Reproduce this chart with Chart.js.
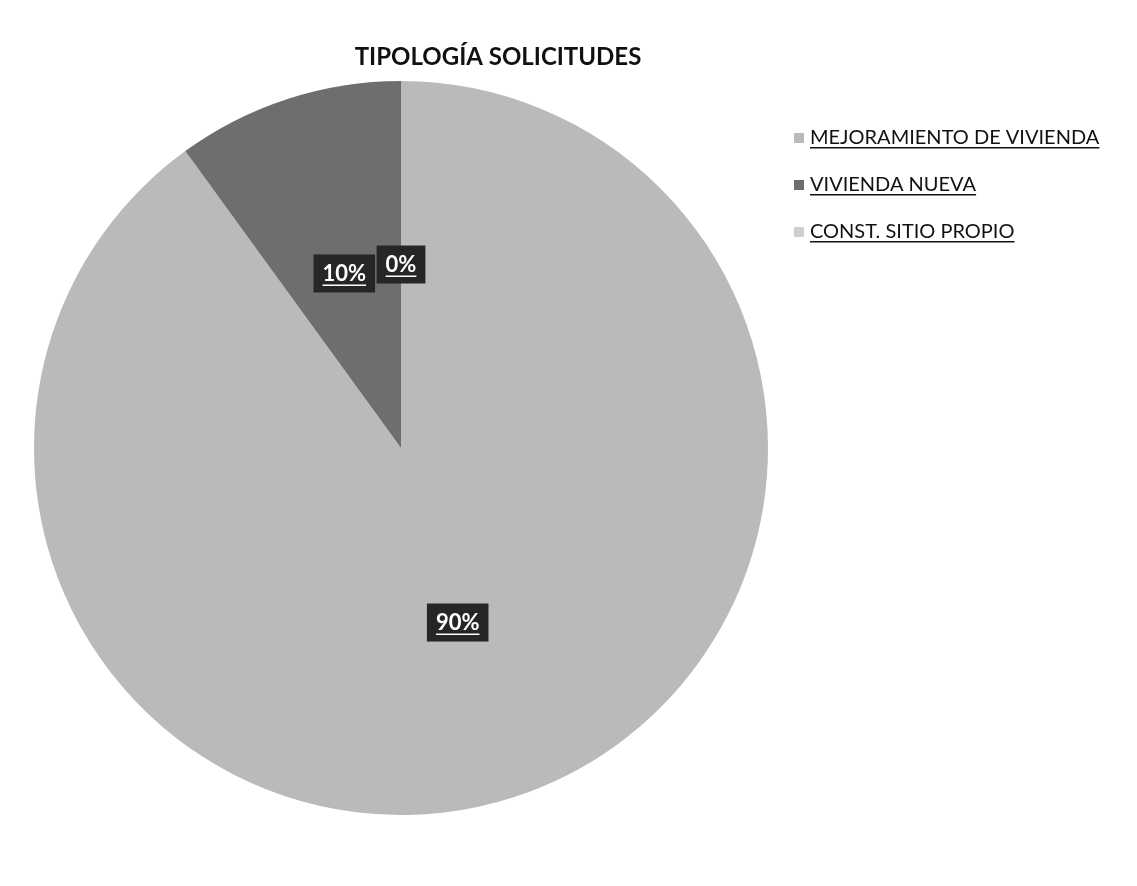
<!DOCTYPE html>
<html>
<head>
<meta charset="utf-8">
<script src="https://cdn.jsdelivr.net/npm/chart.js@4.4.0/dist/chart.umd.min.js"></script>
<style>
  html, body { margin: 0; padding: 0; background: #fff; }
  #wrap { width: 1137px; height: 886px; position: relative; }
</style>
</head>
<body>
<div id="wrap"><canvas id="pieChart"></canvas></div>
<script>
// Datos del gráfico
const titulo = 'TIPOLOGÍA SOLICITUDES';
const categorias = ['MEJORAMIENTO DE VIVIENDA', 'VIVIENDA NUEVA', 'CONST. SITIO PROPIO'];
const porcentajes = [90, 10, 0];
const colores = ['#bababa', '#6e6e6e', '#cfcfcf'];

// Título, leyenda subrayada y etiquetas con fondo oscuro
const extras = {
  id: 'extras',
  afterDraw(chart) {
    const ctx = chart.ctx;
    ctx.save();

    // Título
    ctx.fillStyle = '#111';
    ctx.font = 'bold 24px Lato';
    ctx.textAlign = 'center';
    ctx.textBaseline = 'middle';
    ctx.fillText(titulo, 498, 57);

    // Leyenda
    ctx.font = '20px Lato';
    ctx.textAlign = 'left';
    categorias.forEach((cat, i) => {
      const y = 138 + i * 47;
      ctx.fillStyle = colores[i];
      ctx.fillRect(794, y - 5, 10, 10);
      ctx.fillStyle = '#111';
      ctx.fillText(cat, 810, y);
      const w = ctx.measureText(cat).width;
      ctx.fillRect(810, y + 9, w, 1.5);
    });

    // Etiquetas de porcentaje
    const meta = chart.getDatasetMeta(0);
    ctx.font = 'bold 22px Lato';
    ctx.textAlign = 'center';
    meta.data.forEach((arc, i) => {
      const p = arc.getCenterPoint();
      const txt = porcentajes[i] + '%';
      const w = ctx.measureText(txt).width;
      ctx.fillStyle = '#262626';
      ctx.fillRect(p.x - w / 2 - 9, p.y - 19, w + 18, 38);
      ctx.fillStyle = '#fff';
      ctx.fillText(txt, p.x, p.y);
      ctx.fillRect(p.x - w / 2, p.y + 11, w, 1.5);
    });

    ctx.restore();
  }
};

const pieCtx = document.getElementById('pieChart').getContext('2d');
const pieChart = new Chart(pieCtx, {
  type: 'pie',
  data: {
    labels: categorias,
    datasets: [{
      data: porcentajes,
      backgroundColor: colores,
      borderWidth: 0
    }]
  },
  options: {
    responsive: true,
    maintainAspectRatio: false,
    animation: false,
    layout: {
      padding: { left: 34, right: 369, top: 81, bottom: 71 }
    },
    plugins: {
      legend: { display: false },
      tooltip: { enabled: false }
    }
  },
  plugins: [extras]
});
</script>
</body>
</html>
